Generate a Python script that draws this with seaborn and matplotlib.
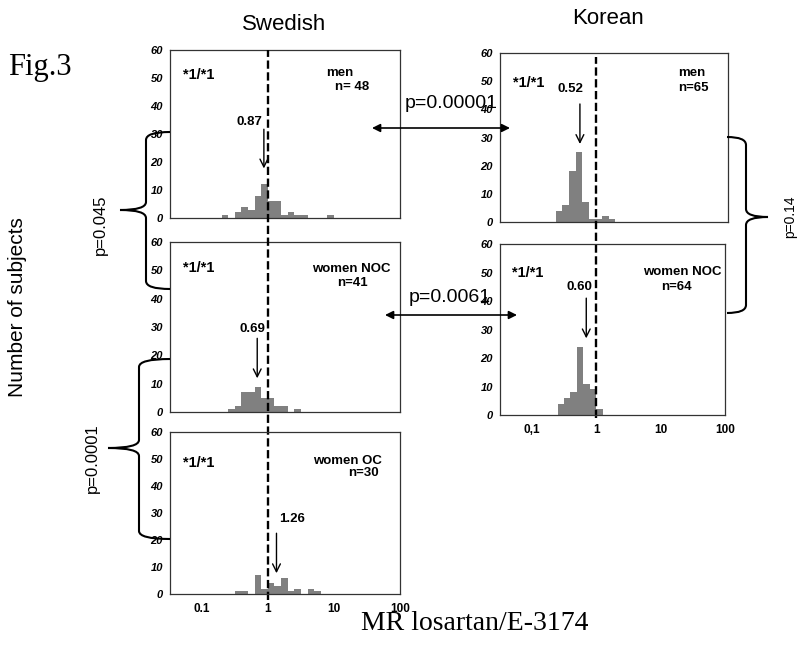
import numpy as np
import matplotlib
matplotlib.use('Agg')
import matplotlib.pyplot as plt
from matplotlib.path import Path
from matplotlib.patches import PathPatch
import seaborn as sns

# bin counts, bins are 0.1 wide in log10(MR), first bin starts at *_start
swe_men_start = -0.7
swe_men_counts = [1, 0, 2, 4, 3, 8, 12, 6, 6, 1, 2, 1, 1, 0, 0, 0, 1]
swe_noc_start = -0.6
swe_noc_counts = [1, 2, 7, 7, 9, 5, 5, 2, 2, 0, 1]
swe_oc_start = -0.5
swe_oc_counts = [1, 1, 0, 7, 2, 4, 3, 6, 1, 2, 0, 2, 1]
kor_men_start = -0.6
kor_men_counts = [4, 6, 18, 25, 7, 1, 1, 2, 1]
kor_noc_start = -0.6
kor_noc_counts = [4, 6, 8, 24, 11, 9, 2]

medians = {'swe_men': '0.87', 'swe_noc': '0.69', 'swe_oc': '1.26',
           'kor_men': '0.52', 'kor_noc': '0.60'}
group_labels = {'swe_men': ['men', 'n= 48'], 'swe_noc': ['women NOC', 'n=41'],
                'swe_oc': ['women OC', 'n=30'], 'kor_men': ['men', 'n=65'],
                'kor_noc': ['women NOC', 'n=64']}

sns.set_style('white')
plt.rcParams['font.family'] = ['Liberation Sans', 'DejaVu Sans']
plt.rcParams['text.color'] = 'black'
plt.rcParams['xtick.color'] = 'black'
plt.rcParams['ytick.color'] = 'black'
plt.rcParams['axes.labelcolor'] = 'black'

W, H = 798, 645
fig = plt.figure(figsize=(W / 100, H / 100), dpi=100)


def px_axes(left, top, right, bottom):
    return fig.add_axes([left / W, 1 - bottom / H, (right - left) / W, (bottom - top) / H])


def hist_panel(ax, start, counts, xmin, bottom_labels=None):
    counts = np.array(counts)
    centers = 10 ** (start + 0.05 + 0.1 * np.arange(len(counts)))
    sns.histplot(x=centers, weights=counts, log_scale=True, binwidth=0.1,
                 binrange=(start, start + 0.1 * len(counts)), color='#808080',
                 alpha=1, edgecolor='none', linewidth=0, ax=ax)
    ax.set_facecolor('none')
    ax.set_xlim(xmin, 100)
    ax.set_ylim(0, 60)
    ax.set_xlabel('')
    ax.set_ylabel('')
    ax.minorticks_off()
    ax.set_xticks([0.1, 1, 10, 100])
    ax.set_yticks(range(0, 61, 10))
    ax.tick_params(axis='y', direction='out', length=4, width=0.8, pad=1, labelsize=8)
    ax.tick_params(axis='x', direction='inout', length=7, width=0.8, pad=3, labelsize=8.5)
    if bottom_labels is None:
        ax.set_xticklabels([])
    else:
        ax.set_xticklabels(bottom_labels, fontweight='bold')
    plt.setp(ax.get_yticklabels(), fontweight='bold', fontstyle='italic')
    for sp in ax.spines.values():
        sp.set_visible(True)
        sp.set_color('#333333')
        sp.set_linewidth(0.9)


def panel_text(ax, key, star_y, lab_pos, med_pos, arrow):
    ax.text(0.055, star_y, '*1/*1', transform=ax.get_yaxis_transform(), fontsize=10.5,
            fontweight='bold', va='center', ha='left')
    for txt, (xf, yd) in zip(group_labels[key], lab_pos):
        ax.text(xf, yd, txt, transform=ax.get_yaxis_transform(), fontsize=9.5,
                fontweight='bold', va='center', ha='center')
    ax.text(med_pos[0], med_pos[1], medians[key], fontsize=9.5, fontweight='bold',
            va='center', ha='center')
    ax.annotate('', xy=(arrow[0], arrow[2]), xytext=(arrow[0], arrow[1]),
                arrowprops=dict(arrowstyle='->', lw=1.0, color='black',
                                mutation_scale=14, shrinkA=0, shrinkB=0))


ax_sm = px_axes(170, 50, 400, 218)
ax_sn = px_axes(170, 242, 400, 412)
ax_so = px_axes(170, 432, 400, 594)
ax_km = px_axes(500, 53, 728, 222)
ax_kn = px_axes(500, 244, 725, 415)

hist_panel(ax_sm, swe_men_start, swe_men_counts, 0.033)
hist_panel(ax_sn, swe_noc_start, swe_noc_counts, 0.033)
hist_panel(ax_so, swe_oc_start, swe_oc_counts, 0.033, ['0.1', '1', '10', '100'])
hist_panel(ax_km, kor_men_start, kor_men_counts, 0.036)
hist_panel(ax_kn, kor_noc_start, kor_noc_counts, 0.032, ['0,1', '1', '10', '100'])

panel_text(ax_sm, 'swe_men', 51, [(0.74, 51.9), (0.79, 46.9)], (0.52, 34.4), (0.87, 31.7, 17.7))
panel_text(ax_sn, 'swe_noc', 50.7, [(0.787, 50.5), (0.793, 45.6)], (0.58, 29.2), (0.69, 26, 11.9))
panel_text(ax_so, 'swe_oc', 48.4, [(0.772, 49.3), (0.843, 45)], (2.31, 27.7), (1.35, 22.5, 7.7))
panel_text(ax_km, 'kor_men', 49.5, [(0.84, 53), (0.848, 47.7)], (0.42, 47.1), (0.58, 41.9, 27.7))
panel_text(ax_kn, 'kor_noc', 49.7, [(0.81, 50.3), (0.785, 45)], (0.54, 45), (0.70, 41, 26.9))

# dashed reference line at MR = 1 running through the stacked panels
ax_so.axvline(1, ymin=(594 - 600) / 162, ymax=(594 - 50) / 162, clip_on=False,
              color='black', lw=1.7, linestyle=(0, (3.5, 1.5)))
ax_kn.axvline(1, ymin=(415 - 418) / 171, ymax=(415 - 57) / 171, clip_on=False,
              color='black', lw=1.7, linestyle=(0, (3.5, 1.5)))

# overlay in pixel coordinates for labels, braces and comparison arrows
ov = fig.add_axes([0, 0, 1, 1], zorder=10)
ov.set_xlim(0, W)
ov.set_ylim(H, 0)
ov.axis('off')
ov.patch.set_alpha(0)


def brace(x_end, x_mid, x_tip, y_top, y_tip, y_bot, r=8):
    verts = [(x_end, y_top), (x_mid, y_top), (x_mid, y_top + r),
             (x_mid, y_tip - r), (x_mid, y_tip), (x_tip, y_tip),
             (x_mid, y_tip), (x_mid, y_tip + r),
             (x_mid, y_bot - r), (x_mid, y_bot), (x_end, y_bot)]
    codes = [Path.MOVETO, Path.CURVE3, Path.CURVE3,
             Path.LINETO, Path.CURVE3, Path.CURVE3,
             Path.CURVE3, Path.CURVE3,
             Path.LINETO, Path.CURVE3, Path.CURVE3]
    ov.add_patch(PathPatch(Path(verts, codes), fill=False, lw=1.5, color='black'))


brace(170, 146, 120, 132, 210, 289)
brace(170, 139, 108, 359, 448, 539)
brace(727, 746, 768, 137, 217, 313)

ov.text(284, 24, 'Swedish', fontsize=16, ha='center', va='center')
ov.text(608, 18, 'Korean', fontsize=16, ha='center', va='center')
ov.text(40, 68, 'Fig.3', fontsize=22, ha='center', va='center', family='Liberation Serif')
ov.text(18, 307, 'Number of subjects', fontsize=15, rotation=90, ha='center', va='center')
ov.text(475, 624, 'MR losartan/E-3174', fontsize=20, ha='center', va='center',
        family='Liberation Serif')
ov.text(451, 104, 'p=0.00001', fontsize=14, ha='center', va='center')
ov.text(450, 298, 'p=0.0061', fontsize=14, ha='center', va='center')
ov.text(100, 225, 'p=0.045', fontsize=12, rotation=90, ha='center', va='center')
ov.text(92, 458, 'p=0.0001', fontsize=12, rotation=90, ha='center', va='center')
ov.text(790, 217, 'p=0.14', fontsize=10, rotation=90, ha='center', va='center')

for y, x0, x1 in [(128, 372, 510), (315, 385, 517)]:
    ov.annotate('', xy=(x0, y), xytext=(x1, y),
                arrowprops=dict(arrowstyle='<|-|>', lw=1.2, color='black',
                                mutation_scale=12, shrinkA=0, shrinkB=0))

fig.savefig('out.png', dpi=100)
